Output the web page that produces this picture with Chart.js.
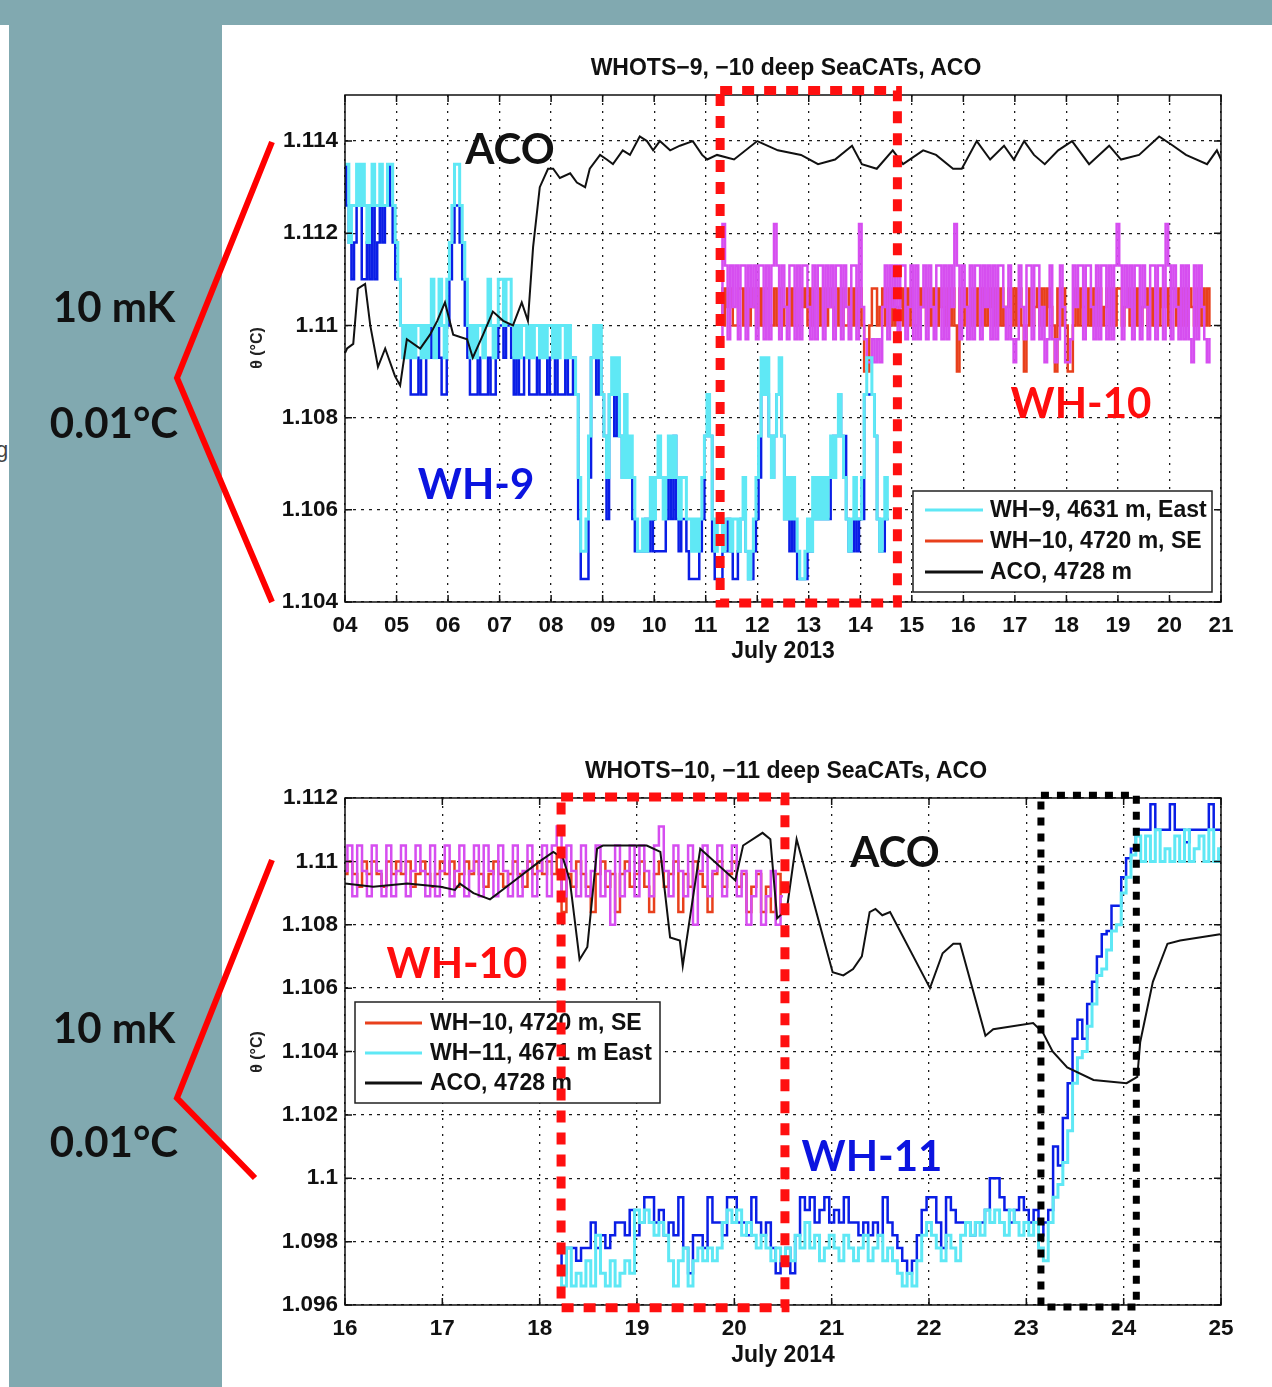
<!DOCTYPE html>
<html>
<head>
<meta charset="utf-8">
<title>WHOTS deep SeaCATs, ACO</title>
<script src="https://cdn.jsdelivr.net/npm/chart.js@4.4.1/dist/chart.umd.min.js"></script>
<style>
  html, body { margin: 0; padding: 0; background: #fff; }
  #stage { position: relative; width: 1272px; height: 1387px; overflow: hidden; background: #fff; }
  .teal { position: absolute; background: #81a9b0; }
  canvas { position: absolute; left: 0; }
  .lbl { position: absolute; transform: translate(-50%, -50%); white-space: nowrap; line-height: 1; }
  .mat { font-family: 'Liberation Sans', Arial, sans-serif; font-weight: bold; color: #111; font-size: 23px; }
  .big { font-family: Lato, 'Open Sans', sans-serif; font-weight: bold; font-size: 42px; }
  .ylab { font-family: 'Liberation Sans', Arial, sans-serif; font-weight: bold; font-size: 16px; color: #222;
          transform: translate(-50%, -50%) rotate(-90deg); }
  svg { position: absolute; left: 0; top: 0; pointer-events: none; }
</style>
</head>
<body>
<div id="stage">
  <div class="lbl" style="left:2px;top:450px;font:22px 'Liberation Sans';color:#444">g</div>
  <div class="teal" style="left:0;top:0;width:1272px;height:25px"></div>
  <div class="teal" style="left:9px;top:0;width:213px;height:1387px"></div>

  <canvas id="topChart" width="1272" height="690" style="top:0"></canvas>
  <canvas id="botChart" width="1272" height="687" style="top:700px"></canvas>

  <svg width="1272" height="1387">
    <polyline points="272,142 177,378 272,602" fill="none" stroke="#ff0000" stroke-width="6"/>
    <polyline points="272,860 177,1098 255,1178" fill="none" stroke="#ff0000" stroke-width="6"/>
  </svg>

  <!-- top panel texts -->
  <div class="lbl mat" style="left:786px;top:67px">WHOTS−9, −10 deep SeaCATs, ACO</div>
  <div class="lbl mat" style="left:783px;top:650px">July 2013</div>
  <div class="lbl ylab" style="left:257px;top:348px">θ (°C)</div>
  <div class="lbl big" style="left:510px;top:148px;color:#111">ACO</div>
  <div class="lbl big" style="left:476px;top:483px;color:#0b14e0">WH-9</div>
  <div class="lbl big" style="left:1081px;top:402px;color:#ff0d0d">WH-10</div>
  <div class="lbl big" style="left:114px;top:306px;color:#111">10 mK</div>
  <div class="lbl big" style="left:114px;top:422px;color:#111">0.01°C</div>

  <!-- bottom panel texts -->
  <div class="lbl mat" style="left:786px;top:770px">WHOTS−10, −11 deep SeaCATs, ACO</div>
  <div class="lbl mat" style="left:783px;top:1354px">July 2014</div>
  <div class="lbl ylab" style="left:257px;top:1052px">θ (°C)</div>
  <div class="lbl big" style="left:457px;top:962px;color:#ff0d0d">WH-10</div>
  <div class="lbl big" style="left:895px;top:851px;color:#111">ACO</div>
  <div class="lbl big" style="left:872px;top:1155px;color:#0b14e0">WH-11</div>
  <div class="lbl big" style="left:114px;top:1027px;color:#111">10 mK</div>
  <div class="lbl big" style="left:114px;top:1141px;color:#111">0.01°C</div>
</div>

<script>
/* ---------- data: July 2013 (WHOTS-9 / -10) ---------- */
const sampleStep = 0.05;           // days between samples of the SeaCAT series
const wh9Start = 4.0;
const wh10TopStart = 11.3;
const wh10BotStart = 16.0;
const wh11Start = 18.2;

const topDayTicks = [4, 5, 6, 7, 8, 9, 10, 11, 12, 13, 14, 15, 16, 17, 18, 19, 20, 21];
const topThetaTicks = [1.104, 1.106, 1.108, 1.11, 1.112, 1.114];

const wh9Cyan = [
  1.1135,1.1135,1.1118,1.1126,1.1126,1.1135,1.1126,1.1135,1.1126,1.1118,1.1126,1.1135,1.1126,1.1126,1.1135,1.1126,1.1126,1.1135,1.1135,1.1126,
  1.1118,1.1110,1.1100,1.1093,1.1100,1.1093,1.1100,1.1093,1.1100,1.1100,1.1093,1.1100,1.1093,1.1100,1.1110,1.1093,1.1100,1.1110,1.1100,1.1093,
  1.1110,1.1118,1.1126,1.1135,1.1135,1.1126,1.1118,1.1110,1.1100,1.1093,1.1100,1.1093,1.1100,1.1100,1.1093,1.1100,1.1110,1.1100,1.1093,1.1100,
  1.1110,1.1110,1.1100,1.1110,1.1110,1.1100,1.1093,1.1100,1.1093,1.1100,1.1100,1.1093,1.1100,1.1093,1.1100,1.1100,1.1093,1.1100,1.1093,1.1100,
  1.1100,1.1093,1.1100,1.1093,1.1100,1.1100,1.1093,1.1100,1.1093,1.1093,1.1085,1.1067,1.1051,1.1051,1.1058,1.1076,1.1093,1.1100,1.1093,1.1100,
  1.1085,1.1076,1.1067,1.1085,1.1093,1.1085,1.1093,1.1076,1.1067,1.1085,1.1067,1.1076,1.1067,1.1058,1.1051,1.1051,1.1058,1.1051,1.1058,1.1067,
  1.1058,1.1067,1.1076,1.1067,1.1058,1.1067,1.1076,1.1067,1.1076,1.1067,1.1058,1.1067,1.1067,1.1058,1.1058,1.1051,1.1058,1.1051,1.1058,1.1067,
  1.1076,1.1085,1.1076,1.1058,1.1051,1.1058,1.1058,1.1051,1.1058,1.1058,1.1051,1.1058,1.1058,1.1051,1.1058,1.1067,1.1051,1.1045,1.1051,1.1058,
  1.1067,1.1076,1.1093,1.1085,1.1093,1.1076,1.1067,1.1076,1.1085,1.1093,1.1076,1.1058,1.1067,1.1058,1.1067,1.1058,1.1051,1.1045,1.1045,1.1051,
  1.1058,1.1051,1.1067,1.1058,1.1067,1.1058,1.1067,1.1058,1.1067,1.1076,1.1067,1.1076,1.1085,1.1076,1.1067,1.1058,1.1051,1.1058,1.1067,1.1058,
  1.1058,1.1067,1.1085,1.1093,1.1093,1.1085,1.1076,1.1058,1.1051,1.1058,1.1067,1.1058
];
const wh9Blue = [
  1.1135,1.1126,1.1118,1.1110,1.1118,1.1126,1.1126,1.1110,1.1110,1.1118,1.1110,1.1126,1.1110,1.1118,1.1126,1.1118,1.1126,1.1135,1.1126,1.1118,
  1.1110,1.1110,1.1100,1.1093,1.1100,1.1093,1.1085,1.1085,1.1085,1.1093,1.1085,1.1085,1.1100,1.1093,1.1100,1.1093,1.1100,1.1093,1.1085,1.1085,
  1.1100,1.1110,1.1118,1.1126,1.1126,1.1118,1.1110,1.1100,1.1093,1.1085,1.1085,1.1085,1.1093,1.1085,1.1085,1.1085,1.1093,1.1085,1.1085,1.1093,
  1.1100,1.1100,1.1093,1.1100,1.1100,1.1093,1.1085,1.1093,1.1085,1.1085,1.1093,1.1093,1.1085,1.1085,1.1085,1.1093,1.1085,1.1085,1.1085,1.1093,
  1.1085,1.1085,1.1093,1.1085,1.1085,1.1085,1.1093,1.1085,1.1085,1.1093,1.1085,1.1058,1.1045,1.1045,1.1045,1.1067,1.1093,1.1093,1.1085,1.1093,
  1.1085,1.1076,1.1058,1.1085,1.1085,1.1076,1.1085,1.1076,1.1067,1.1076,1.1067,1.1067,1.1058,1.1051,1.1051,1.1051,1.1051,1.1058,1.1051,1.1058,
  1.1051,1.1051,1.1051,1.1051,1.1051,1.1058,1.1067,1.1058,1.1076,1.1058,1.1051,1.1058,1.1058,1.1051,1.1045,1.1045,1.1045,1.1045,1.1051,1.1058,
  1.1076,1.1076,1.1076,1.1051,1.1045,1.1045,1.1045,1.1051,1.1051,1.1058,1.1051,1.1045,1.1045,1.1051,1.1058,1.1058,1.1051,1.1045,1.1045,1.1051,
  1.1058,1.1067,1.1085,1.1085,1.1085,1.1076,1.1067,1.1076,1.1085,1.1085,1.1076,1.1058,1.1058,1.1051,1.1058,1.1051,1.1045,1.1045,1.1045,1.1045,
  1.1051,1.1051,1.1058,1.1058,1.1058,1.1058,1.1058,1.1058,1.1058,1.1067,1.1076,1.1076,1.1085,1.1076,1.1076,1.1058,1.1051,1.1051,1.1058,1.1051,
  1.1058,1.1058,1.1085,1.1085,1.1085,1.1085,1.1076,1.1058,1.1051,1.1051,1.1058,1.1058
];
const wh10TopRed = [
  1.1108,1.1100,1.1108,1.1104,1.1108,1.1100,1.1100,1.1108,1.1108,1.1100,1.1108,1.1100,1.1108,1.1104,1.1100,1.1108,1.1100,1.1108,1.1108,1.1100,
  1.1100,1.1108,1.1100,1.1108,1.1100,1.1104,1.1108,1.1100,1.1108,1.1100,1.1100,1.1108,1.1104,1.1108,1.1100,1.1108,1.1100,1.1108,1.1108,1.1100,
  1.1108,1.1100,1.1108,1.1104,1.1100,1.1108,1.1100,1.1108,1.1100,1.1100,1.1108,1.1100,1.1108,1.1100,1.1108,1.1100,1.1090,1.1090,1.1100,1.1108,
  1.1108,1.1100,1.1104,1.1108,1.1100,1.1108,1.1100,1.1108,1.1100,1.1104,1.1108,1.1100,1.1108,1.1100,1.1108,1.1100,1.1100,1.1108,1.1104,1.1108,
  1.1100,1.1108,1.1100,1.1108,1.1100,1.1108,1.1104,1.1100,1.1108,1.1100,1.1108,1.1100,1.1090,1.1108,1.1100,1.1108,1.1104,1.1100,1.1108,1.1100,
  1.1108,1.1100,1.1108,1.1100,1.1104,1.1108,1.1100,1.1108,1.1100,1.1108,1.1100,1.1104,1.1108,1.1100,1.1108,1.1100,1.1108,1.1100,1.1090,1.1100,
  1.1108,1.1100,1.1104,1.1108,1.1100,1.1108,1.1100,1.1108,1.1104,1.1100,1.1090,1.1108,1.1100,1.1108,1.1100,1.1090,1.1090,1.1100,1.1108,1.1100,
  1.1108,1.1104,1.1100,1.1108,1.1100,1.1108,1.1100,1.1108,1.1100,1.1104,1.1108,1.1100,1.1108,1.1100,1.1108,1.1108,1.1100,1.1104,1.1108,1.1100,
  1.1108,1.1100,1.1108,1.1100,1.1104,1.1108,1.1100,1.1108,1.1100,1.1108,1.1100,1.1108,1.1104,1.1108,1.1100,1.1108,1.1108,1.1100,1.1108,1.1100,
  1.1108,1.1100,1.1108,1.1104,1.1100,1.1108,1.1100,1.1108,1.1100,1.1108,1.1100
];
const wh10TopMagenta = [
  1.1097,1.1122,1.1113,1.1097,1.1113,1.1104,1.1113,1.1097,1.1113,1.1113,1.1097,1.1113,1.1104,1.1113,1.1097,1.1113,1.1113,1.1097,1.1113,1.1097,
  1.1113,1.1122,1.1113,1.1097,1.1113,1.1104,1.1097,1.1113,1.1113,1.1097,1.1113,1.1097,1.1113,1.1113,1.1104,1.1097,1.1113,1.1097,1.1113,1.1113,
  1.1097,1.1113,1.1104,1.1113,1.1097,1.1113,1.1113,1.1097,1.1113,1.1104,1.1097,1.1113,1.1113,1.1097,1.1122,1.1104,1.1097,1.1092,1.1092,1.1097,
  1.1092,1.1097,1.1092,1.1104,1.1113,1.1097,1.1113,1.1104,1.1113,1.1097,1.1113,1.1113,1.1097,1.1104,1.1113,1.1097,1.1113,1.1097,1.1104,1.1113,
  1.1097,1.1113,1.1104,1.1097,1.1113,1.1113,1.1097,1.1113,1.1097,1.1113,1.1104,1.1122,1.1113,1.1097,1.1113,1.1104,1.1097,1.1113,1.1097,1.1113,
  1.1113,1.1097,1.1113,1.1104,1.1113,1.1097,1.1113,1.1097,1.1113,1.1113,1.1104,1.1097,1.1113,1.1097,1.1092,1.1097,1.1113,1.1104,1.1097,1.1113,
  1.1113,1.1097,1.1113,1.1113,1.1097,1.1104,1.1092,1.1097,1.1113,1.1097,1.1092,1.1097,1.1113,1.1104,1.1092,1.1092,1.1097,1.1113,1.1104,1.1113,
  1.1113,1.1097,1.1113,1.1113,1.1104,1.1097,1.1113,1.1097,1.1113,1.1113,1.1097,1.1113,1.1097,1.1113,1.1122,1.1113,1.1097,1.1113,1.1104,1.1113,
  1.1097,1.1113,1.1113,1.1097,1.1113,1.1104,1.1097,1.1113,1.1113,1.1097,1.1113,1.1113,1.1097,1.1122,1.1113,1.1097,1.1113,1.1104,1.1097,1.1113,
  1.1097,1.1113,1.1097,1.1092,1.1113,1.1097,1.1113,1.1104,1.1097,1.1092,1.1097
];
const acoTopDays = [
  4.00, 4.04, 4.16, 4.25, 4.39, 4.49, 4.64, 4.78, 4.97, 5.07, 5.20, 5.46, 5.65, 5.79, 5.94, 6.10, 6.37, 6.48, 6.68, 6.87,
  7.07, 7.26, 7.43, 7.55, 7.65, 7.78, 7.94, 8.04, 8.17, 8.37, 8.50, 8.66, 8.75, 8.95, 9.08, 9.20, 9.39, 9.53, 9.72, 9.86,
  9.98, 10.11, 10.31, 10.50, 10.75, 10.93, 11.03, 11.22, 11.55, 12.00, 12.40, 12.85, 13.18, 13.51, 13.84, 14.03, 14.32, 14.63, 14.83, 15.22,
  15.47, 15.80, 15.97, 16.26, 16.52, 16.79, 16.98, 17.18, 17.37, 17.58, 17.84, 18.11, 18.44, 18.83, 19.06, 19.41, 19.80, 20.07, 20.32, 20.73,
  20.92, 21.00
];
const acoTopTheta = [
  1.1094, 1.1095, 1.1096, 1.1108, 1.1109, 1.1100, 1.1091, 1.1095, 1.1089, 1.1087, 1.1097, 1.1095, 1.1098, 1.1101, 1.1105, 1.1098, 1.1097, 1.1093, 1.1098, 1.1103,
  1.1101, 1.1100, 1.1105, 1.1101, 1.1117, 1.1130, 1.1134, 1.1134, 1.1132, 1.1133, 1.1131, 1.1130, 1.1134, 1.1137, 1.1136, 1.1135, 1.1138, 1.1137, 1.1141, 1.1140,
  1.1138, 1.1140, 1.1138, 1.1139, 1.1140, 1.1137, 1.1136, 1.1137, 1.1136, 1.1140, 1.1138, 1.1137, 1.1135, 1.1136, 1.1139, 1.1135, 1.1134, 1.1138, 1.1135, 1.1138,
  1.1137, 1.1134, 1.1134, 1.1140, 1.1136, 1.1139, 1.1136, 1.1140, 1.1137, 1.1135, 1.1138, 1.1140, 1.1135, 1.1139, 1.1136, 1.1137, 1.1141, 1.1139, 1.1137, 1.1135,
  1.1138, 1.1136
];

/* ---------- data: July 2014 (WHOTS-10 / -11) ---------- */
const botDayTicks = [16, 17, 18, 19, 20, 21, 22, 23, 24, 25];
const botThetaTicks = [1.096, 1.098, 1.1, 1.102, 1.104, 1.106, 1.108, 1.11, 1.112];

const wh10BotRed = [
  1.1096,1.1100,1.1096,1.1092,1.1100,1.1096,1.1100,1.1096,1.1092,1.1100,1.1096,1.1100,1.1096,1.1100,1.1092,1.1096,1.1100,1.1096,1.1092,1.1096,
  1.1100,1.1096,1.1100,1.1092,1.1096,1.1100,1.1096,1.1100,1.1096,1.1092,1.1096,1.1100,1.1096,1.1092,1.1096,1.1100,1.1096,1.1092,1.1100,1.1096,
  1.1100,1.1096,1.1100,1.1096,1.1102,1.1084,1.1096,1.1092,1.1100,1.1096,1.1092,1.1084,1.1096,1.1100,1.1092,1.1096,1.1084,1.1096,1.1100,1.1092,
  1.1096,1.1100,1.1092,1.1084,1.1096,1.1100,1.1092,1.1096,1.1100,1.1084,1.1096,1.1092,1.1100,1.1096,1.1092,1.1084,1.1096,1.1100,1.1092,1.1096,
  1.1100,1.1092,1.1096,1.1084,1.1092,1.1096,1.1084,1.1092,1.1084,1.1096,1.1084
];
const wh10BotMagenta = [
  1.1097,1.1105,1.1089,1.1105,1.1097,1.1089,1.1105,1.1097,1.1089,1.1105,1.1089,1.1097,1.1105,1.1089,1.1097,1.1105,1.1097,1.1089,1.1105,1.1089,
  1.1097,1.1105,1.1089,1.1097,1.1105,1.1089,1.1097,1.1105,1.1089,1.1105,1.1097,1.1089,1.1105,1.1097,1.1089,1.1105,1.1089,1.1097,1.1105,1.1089,
  1.1097,1.1105,1.1089,1.1105,1.1111,1.1089,1.1105,1.1097,1.1089,1.1105,1.1089,1.1097,1.1105,1.1089,1.1097,1.1080,1.1105,1.1089,1.1097,1.1105,
  1.1089,1.1105,1.1097,1.1089,1.1105,1.1111,1.1097,1.1089,1.1105,1.1097,1.1089,1.1105,1.1080,1.1097,1.1105,1.1089,1.1097,1.1105,1.1089,1.1097,
  1.1105,1.1089,1.1097,1.1080,1.1089,1.1097,1.1080,1.1089,1.1097,1.1080,1.1089
];
const wh11Blue = [
  1.0978,1.0970,1.0978,1.0978,1.0974,1.0978,1.0978,1.0986,1.0978,1.0982,1.0978,1.0982,1.0986,1.0986,1.0982,1.0990,
  1.0982,1.0986,1.0994,1.0994,1.0986,1.0990,1.0982,1.0986,1.0982,1.0994,1.0978,1.0970,1.0982,1.0982,1.0978,1.0994,1.0986,1.0986,1.0982,1.0994,
  1.0994,1.0986,1.0986,1.0982,1.0994,1.0986,1.0982,1.0986,1.0978,1.0970,1.0974,1.0978,1.0970,1.0982,1.0994,1.0990,1.0994,1.0986,1.0990,1.0994,
  1.0986,1.0990,1.0986,1.0994,1.0986,1.0986,1.0982,1.0986,1.0982,1.0986,1.0982,1.0994,1.0986,1.0982,1.0978,1.0974,1.0970,1.0974,1.0982,1.0990,
  1.0994,1.0994,1.0986,1.0978,1.0994,1.0990,1.0986,1.0986,1.0986,1.0982,1.0986,1.0986,1.0990,1.1000,1.1000,1.0994,1.0990,1.0986,1.0990,1.0994,
  1.0990,1.0986,1.0990,1.0982,1.0986,1.0990,1.1010,1.1004,1.1019,1.1030,1.1044,1.1050,1.1044,1.1055,1.1062,1.1070,1.1077,1.1078,1.1086,1.1086,
  1.1095,1.1101,1.1104,1.1110,1.1110,1.1110,1.1118,1.1110,1.1110,1.1110,1.1118,1.1110,1.1110,1.1106,1.1110,1.1110,1.1110,1.1110,1.1118,1.1110,1.1110
];
const wh11Cyan = [
  1.0970,1.0966,1.0978,1.0966,1.0970,1.0966,1.0974,1.0966,1.0982,1.0970,1.0966,1.0974,1.0966,1.0970,1.0974,1.0970,
  1.0990,1.0986,1.0990,1.0986,1.0982,1.0986,1.0982,1.0974,1.0966,1.0974,1.0978,1.0966,1.0974,1.0978,1.0974,1.0978,1.0974,1.0978,1.0986,1.0990,
  1.0986,1.0990,1.0982,1.0986,1.0982,1.0978,1.0982,1.0978,1.0974,1.0978,1.0974,1.0978,1.0974,1.0982,1.0978,1.0986,1.0978,1.0982,1.0974,1.0978,
  1.0982,1.0978,1.0974,1.0982,1.0978,1.0974,1.0978,1.0982,1.0974,1.0978,1.0982,1.0974,1.0978,1.0974,1.0970,1.0966,1.0970,1.0966,1.0974,1.0982,
  1.0986,1.0982,1.0978,1.0974,1.0982,1.0978,1.0974,1.0982,1.0986,1.0982,1.0986,1.0982,1.0990,1.0986,1.0990,1.0986,1.0982,1.0990,1.0986,1.0982,
  1.0986,1.0982,1.0986,1.0978,1.0974,1.0986,1.0994,1.0998,1.1005,1.1015,1.1030,1.1038,1.1040,1.1048,1.1055,1.1064,1.1066,1.1072,1.1078,1.1080,
  1.1090,1.1095,1.1102,1.1108,1.1100,1.1108,1.1100,1.1110,1.1100,1.1104,1.1100,1.1108,1.1100,1.1110,1.1100,1.1104,1.1108,1.1100,1.1110,1.1100,1.1104
];
const acoBotDays = [
  16.00, 16.29, 16.64, 16.98, 17.13, 17.18, 17.32, 17.49, 17.66, 18.00, 18.14, 18.24, 18.31, 18.41, 18.49, 18.59, 18.65, 19.10, 19.24, 19.34,
  19.44, 19.47, 19.65, 20.01, 20.09, 20.29, 20.37, 20.44, 20.54, 20.64, 21.01, 21.12, 21.22, 21.31, 21.39, 21.45, 21.52, 21.60, 22.01, 22.14,
  22.25, 22.32, 22.58, 22.66, 23.07, 23.17, 23.27, 23.42, 23.69, 24.03, 24.14, 24.17, 24.30, 24.45, 24.58, 24.99
];
const acoBotTheta = [
  1.1093, 1.1092, 1.1093, 1.1092, 1.1091, 1.1093, 1.1090, 1.1088, 1.1092, 1.1100, 1.1103, 1.1101, 1.1094, 1.1069, 1.1073, 1.1104, 1.1105, 1.1105, 1.1103, 1.1076,
  1.1075, 1.1067, 1.1104, 1.1094, 1.1105, 1.1109, 1.1107, 1.1082, 1.1085, 1.1107, 1.1065, 1.1064, 1.1066, 1.1070, 1.1084, 1.1085, 1.1083, 1.1084, 1.1060, 1.1071,
  1.1074, 1.1074, 1.1045, 1.1047, 1.1049, 1.1046, 1.1040, 1.1035, 1.1031, 1.1030, 1.1032, 1.1043, 1.1062, 1.1074, 1.1075, 1.1077
];

/* ---------- helpers ---------- */
const CYAN = '#5fe8f5', BLUE = '#0a1ee6', RED = '#e8401c', MAGENTA = '#d64ef0', BLACK = '#111';
const TICK_FONT = { family: 'Liberation Sans', size: 22.5, weight: 'bold' };

function sampled(start, vals) {
  return vals.map((v, i) => ({ x: +(start + i * sampleStep).toFixed(2), y: v }));
}
function paired(days, vals) {
  return days.map((d, i) => ({ x: d, y: vals[i] }));
}
function seaCat(vals, start, color, width) {
  return { data: sampled(start, vals), borderColor: color, borderWidth: width, stepped: 'middle', pointRadius: 0 };
}
function acoLine(days, vals) {
  return { data: paired(days, vals), borderColor: BLACK, borderWidth: 2, tension: 0, pointRadius: 0 };
}

// box frame, inward ticks, legend and highlight boxes (MATLAB look)
function framePlugin(cfg) {
  return {
    id: 'frame',
    afterDraw(chart) {
      const { ctx, chartArea: a } = chart;
      const x = chart.scales.x, y = chart.scales.y;
      ctx.save();
      ctx.setLineDash([]);
      ctx.strokeStyle = '#111';
      ctx.lineWidth = 1.5;
      ctx.beginPath();
      x.ticks.forEach(t => {
        const px = x.getPixelForValue(t.value);
        ctx.moveTo(px, a.bottom); ctx.lineTo(px, a.bottom - 7);
        ctx.moveTo(px, a.top); ctx.lineTo(px, a.top + 7);
      });
      y.ticks.forEach(t => {
        const py = y.getPixelForValue(t.value);
        ctx.moveTo(a.left, py); ctx.lineTo(a.left + 7, py);
        ctx.moveTo(a.right, py); ctx.lineTo(a.right - 7, py);
      });
      ctx.stroke();
      ctx.strokeRect(a.left, a.top, a.right - a.left, a.bottom - a.top);

      const L = cfg.legend;
      ctx.fillStyle = '#fff';
      ctx.fillRect(L.left, L.top, L.width, L.height);
      ctx.strokeStyle = '#222';
      ctx.lineWidth = 1.5;
      ctx.strokeRect(L.left, L.top, L.width, L.height);
      ctx.font = 'bold 23px "Liberation Sans"';
      ctx.textBaseline = 'middle';
      L.items.forEach((it, i) => {
        const cy = L.top + L.first + i * L.gap;
        ctx.strokeStyle = it.color;
        ctx.lineWidth = 3;
        ctx.beginPath();
        ctx.moveTo(L.left + L.line0, cy); ctx.lineTo(L.left + L.line1, cy);
        ctx.stroke();
        ctx.fillStyle = '#111';
        ctx.fillText(it.label, L.left + L.text, cy + 1);
      });

      cfg.boxes.forEach(b => {
        const l = x.getPixelForValue(b.x0), r = x.getPixelForValue(b.x1);
        const t = y.getPixelForValue(b.y0), bt = y.getPixelForValue(b.y1);
        ctx.setLineDash(b.dash);
        ctx.lineWidth = b.width;
        ctx.strokeStyle = b.color;
        ctx.strokeRect(l, t, r - l, bt - t);
      });
      ctx.restore();
    }
  };
}

function buildChart(id, p) {
  return new Chart(document.getElementById(id), {
    type: 'line',
    data: { datasets: p.datasets },
    options: {
      responsive: false,
      animation: false,
      devicePixelRatio: 1,
      layout: { padding: { top: p.top, right: 51, left: 0, bottom: 0 } },
      plugins: { legend: { display: false }, tooltip: { enabled: false } },
      scales: {
        x: {
          type: 'linear', min: p.xMin, max: p.xMax,
          afterBuildTicks: s => { s.ticks = p.xTicks.map(v => ({ value: v })); },
          afterFit: s => { s.height = p.xHeight; },
          grid: { color: '#1a1a1a', lineWidth: 1.3, drawTicks: false },
          border: { display: false, dash: [2, 6] },
          ticks: { padding: 10, color: '#111', font: TICK_FONT, maxRotation: 0, autoSkip: false,
                   callback: v => p.xFmt(v) }
        },
        y: {
          min: p.yMin, max: p.yMax,
          afterBuildTicks: s => { s.ticks = p.yTicks.map(v => ({ value: v })); },
          afterFit: s => { s.width = 345; },
          grid: { color: '#1a1a1a', lineWidth: 1.3, drawTicks: false },
          border: { display: false, dash: [3, 5] },
          ticks: { padding: 7, color: '#111', font: TICK_FONT, autoSkip: false,
                   callback: v => String(parseFloat(v.toFixed(3))) }
        }
      }
    },
    plugins: [framePlugin(p.frame)]
  });
}

/* ---------- July 2013 ---------- */
buildChart('topChart', {
  top: 95, xHeight: 88,
  xMin: 4, xMax: 21, xTicks: topDayTicks, xFmt: v => String(v).padStart(2, '0'),
  yMin: 1.104, yMax: 1.115, yTicks: topThetaTicks,
  datasets: [
    acoLine(acoTopDays, acoTopTheta),
    seaCat(wh9Cyan, wh9Start, CYAN, 3),
    seaCat(wh9Blue, wh9Start, BLUE, 2.5),
    seaCat(wh10TopMagenta, wh10TopStart, MAGENTA, 2.5),
    seaCat(wh10TopRed, wh10TopStart, RED, 2.5)
  ],
  frame: {
    legend: { left: 913, top: 491, width: 299, height: 101, first: 19, gap: 31, line0: 12, line1: 70, text: 77,
      items: [
        { label: 'WH−9, 4631 m, East', color: CYAN },
        { label: 'WH−10, 4720 m, SE', color: RED },
        { label: 'ACO, 4728 m', color: BLACK }
      ] },
    boxes: [ { x0: 11.28, x1: 14.72, y0: 1.1151, y1: 1.10398, color: '#ff1010', width: 9, dash: [12, 10] } ]
  }
});

/* ---------- July 2014 ---------- */
buildChart('botChart', {
  top: 98, xHeight: 82,
  xMin: 16, xMax: 25, xTicks: botDayTicks, xFmt: v => String(v),
  yMin: 1.096, yMax: 1.112, yTicks: botThetaTicks,
  datasets: [
    acoLine(acoBotDays, acoBotTheta),
    seaCat(wh11Cyan, wh11Start, CYAN, 3),
    seaCat(wh11Blue, wh11Start, BLUE, 2.5),
    seaCat(wh10BotMagenta, wh10BotStart, MAGENTA, 2.5),
    seaCat(wh10BotRed, wh10BotStart, RED, 2.5)
  ],
  frame: {
    legend: { left: 355, top: 302, width: 305, height: 101, first: 21, gap: 30, line0: 10, line1: 67, text: 75,
      items: [
        { label: 'WH−10, 4720 m, SE', color: RED },
        { label: 'WH−11, 4671 m East', color: CYAN },
        { label: 'ACO, 4728 m', color: BLACK }
      ] },
    boxes: [
      { x0: 18.22, x1: 20.52, y0: 1.11203, y1: 1.09591, color: '#ff1010', width: 9, dash: [12, 10] },
      { x0: 23.15, x1: 24.13, y0: 1.11209, y1: 1.09594, color: '#000', width: 7, dash: [8, 8] }
    ]
  }
});
</script>
</body>
</html>
